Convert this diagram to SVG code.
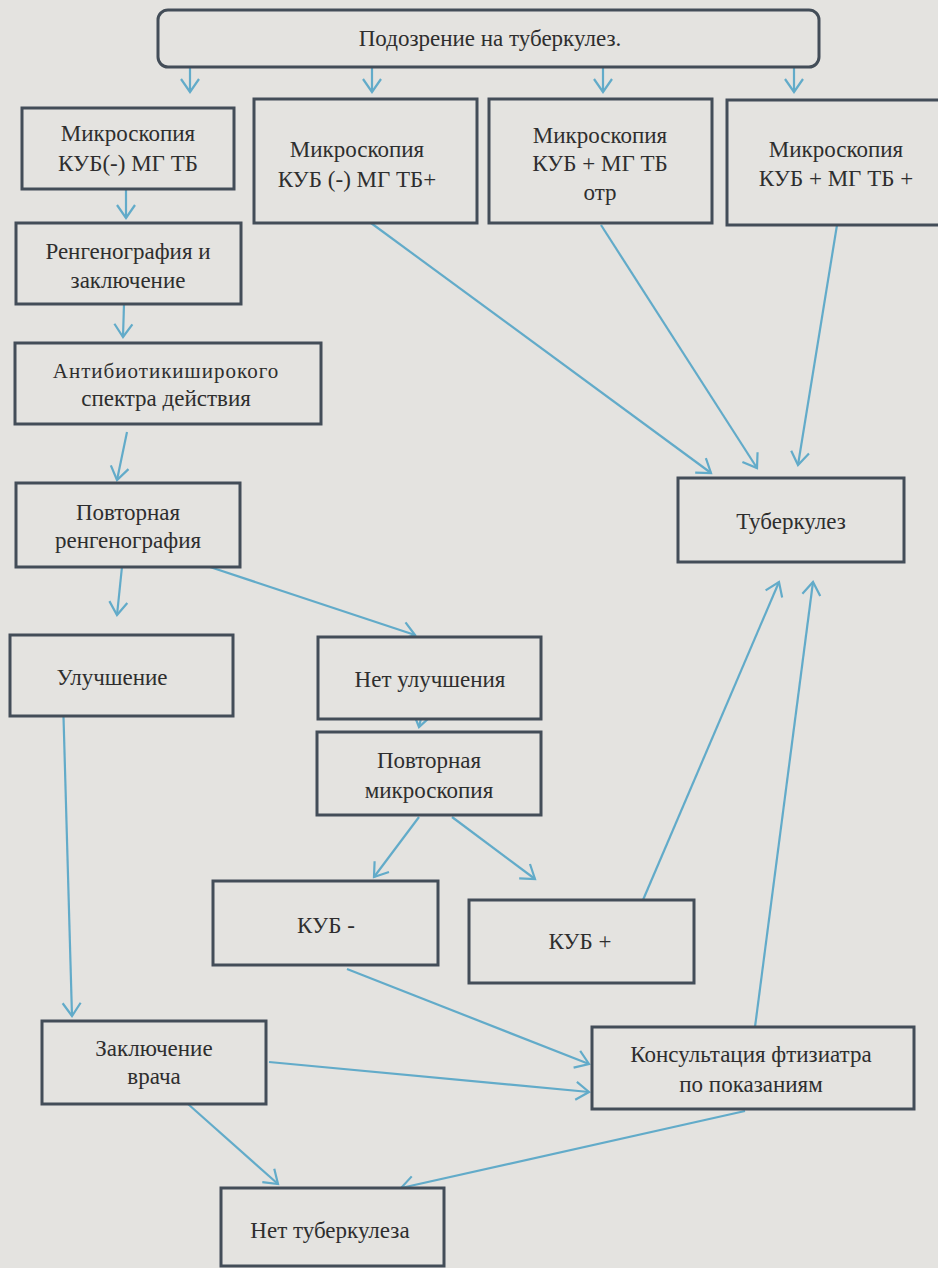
<svg xmlns="http://www.w3.org/2000/svg" width="938" height="1268" viewBox="0 0 938 1268">
<defs>
<marker id="ah" markerUnits="userSpaceOnUse" markerWidth="16" markerHeight="20" refX="14" refY="10" orient="auto" overflow="visible">
<path d="M1,1 L14,10 L1,19" fill="none" stroke="#62abc9" stroke-width="2.2"/>
</marker>
</defs>
<rect x="0" y="0" width="938" height="1268" fill="#e4e3e0"/>

<g id="connectors" stroke="#62abc9" stroke-width="2.2" fill="none">
<line x1="190" y1="68" x2="190" y2="92" marker-end="url(#ah)"/>
<line x1="372" y1="68" x2="372" y2="92" marker-end="url(#ah)"/>
<line x1="603" y1="68" x2="603" y2="92" marker-end="url(#ah)"/>
<line x1="794" y1="68" x2="794" y2="92" marker-end="url(#ah)"/>
<line x1="126" y1="190" x2="126" y2="218" marker-end="url(#ah)"/>
<line x1="124" y1="304" x2="123" y2="337" marker-end="url(#ah)"/>
<line x1="127" y1="432" x2="117" y2="480" marker-end="url(#ah)"/>
<line x1="123" y1="557" x2="117" y2="615" marker-end="url(#ah)"/>
<line x1="210" y1="567" x2="415" y2="635" marker-end="url(#ah)"/>
<line x1="371" y1="223" x2="711" y2="473" marker-end="url(#ah)"/>
<line x1="601" y1="225" x2="757" y2="468" marker-end="url(#ah)"/>
<line x1="837" y1="225" x2="798" y2="465" marker-end="url(#ah)"/>
<line x1="425" y1="701" x2="419" y2="727" marker-end="url(#ah)"/>
<line x1="419" y1="817" x2="374" y2="877" marker-end="url(#ah)"/>
<line x1="452" y1="817" x2="535" y2="879" marker-end="url(#ah)"/>
<line x1="643" y1="900" x2="779" y2="582" marker-end="url(#ah)"/>
<line x1="755" y1="1027" x2="813" y2="582" marker-end="url(#ah)"/>
<line x1="63" y1="699" x2="72" y2="1016" marker-end="url(#ah)"/>
<line x1="347" y1="969" x2="589" y2="1064" marker-end="url(#ah)"/>
<line x1="269" y1="1062" x2="589" y2="1092" marker-end="url(#ah)"/>
<line x1="188" y1="1104" x2="278" y2="1184" marker-end="url(#ah)"/>
<line x1="745" y1="1111" x2="401" y2="1188" marker-end="url(#ah)"/>
</g>

<g id="boxes" fill="#e4e3e0" stroke="#434d58" stroke-width="3">
<rect id="b_suspect" x="158" y="10" width="661" height="57" rx="10"/>
<rect id="b_a" x="22" y="108" width="212" height="81"/>
<rect id="b_b" x="254" y="99" width="223" height="124"/>
<rect id="b_c" x="489" y="99" width="223" height="124"/>
<rect id="b_d" x="727" y="100" width="220" height="125"/>
<rect id="b_ren" x="16" y="223" width="225" height="81"/>
<rect id="b_ab" x="15" y="343" width="306" height="81"/>
<rect id="b_pr" x="16" y="483" width="224" height="84"/>
<rect id="b_tb" x="678" y="478" width="226" height="84"/>
<rect id="b_ul" x="10" y="635" width="223" height="81"/>
<rect id="b_nu" x="318" y="637" width="223" height="82"/>
<rect id="b_pm" x="317" y="732" width="224" height="83"/>
<rect id="b_km" x="213" y="881" width="225" height="84"/>
<rect id="b_kp" x="469" y="900" width="225" height="83"/>
<rect id="b_zv" x="42" y="1021" width="224" height="83"/>
<rect id="b_kf" x="592" y="1027" width="322" height="82"/>
<rect id="b_nt" x="221" y="1188" width="223" height="78"/>
</g>

<g id="labels" fill="#2e2e2e" text-anchor="middle" font-size="23" font-family="Liberation Serif">
<text font-family="Liberation Serif" x="490" y="46">Подозрение на туберкулез.</text>
<text font-family="Liberation Serif" x="128" y="141">Микроскопия</text>
<text font-family="Liberation Serif" x="128" y="171">КУБ(-) МГ  ТБ</text>
<text font-family="Liberation Serif" x="357" y="157">Микроскопия</text>
<text font-family="Liberation Serif" x="357" y="187">КУБ (-) МГ ТБ+</text>
<text font-family="Liberation Serif" x="600" y="143">Микроскопия</text>
<text font-family="Liberation Serif" x="600" y="171">КУБ + МГ ТБ</text>
<text font-family="Liberation Serif" x="600" y="200">отр</text>
<text font-family="Liberation Serif" x="836" y="157">Микроскопия</text>
<text font-family="Liberation Serif" x="836" y="186">КУБ + МГ ТБ +</text>
<text font-family="Liberation Serif" x="128" y="259">Ренгенография и</text>
<text font-family="Liberation Serif" x="128" y="288">заключение</text>
<text font-family="Liberation Serif" x="166" y="378" font-size="21" letter-spacing="1">Антибиотикиширокого</text>
<text font-family="Liberation Serif" x="166" y="406">спектра действия</text>
<text font-family="Liberation Serif" x="128" y="520">Повторная</text>
<text font-family="Liberation Serif" x="128" y="548">ренгенография</text>
<text font-family="Liberation Serif" x="791" y="529">Туберкулез</text>
<text font-family="Liberation Serif" x="112" y="685">Улучшение</text>
<text font-family="Liberation Serif" x="430" y="687">Нет улучшения</text>
<text font-family="Liberation Serif" x="429" y="768">Повторная</text>
<text font-family="Liberation Serif" x="429" y="798">микроскопия</text>
<text font-family="Liberation Serif" x="326" y="933">КУБ -</text>
<text font-family="Liberation Serif" x="580" y="949">КУБ +</text>
<text font-family="Liberation Serif" x="154" y="1056">Заключение</text>
<text font-family="Liberation Serif" x="154" y="1084">врача</text>
<text font-family="Liberation Serif" x="751" y="1062">Консультация фтизиатра</text>
<text font-family="Liberation Serif" x="751" y="1092">по показаниям</text>
<text font-family="Liberation Serif" x="330" y="1238">Нет туберкулеза</text>
</g>
</svg>
